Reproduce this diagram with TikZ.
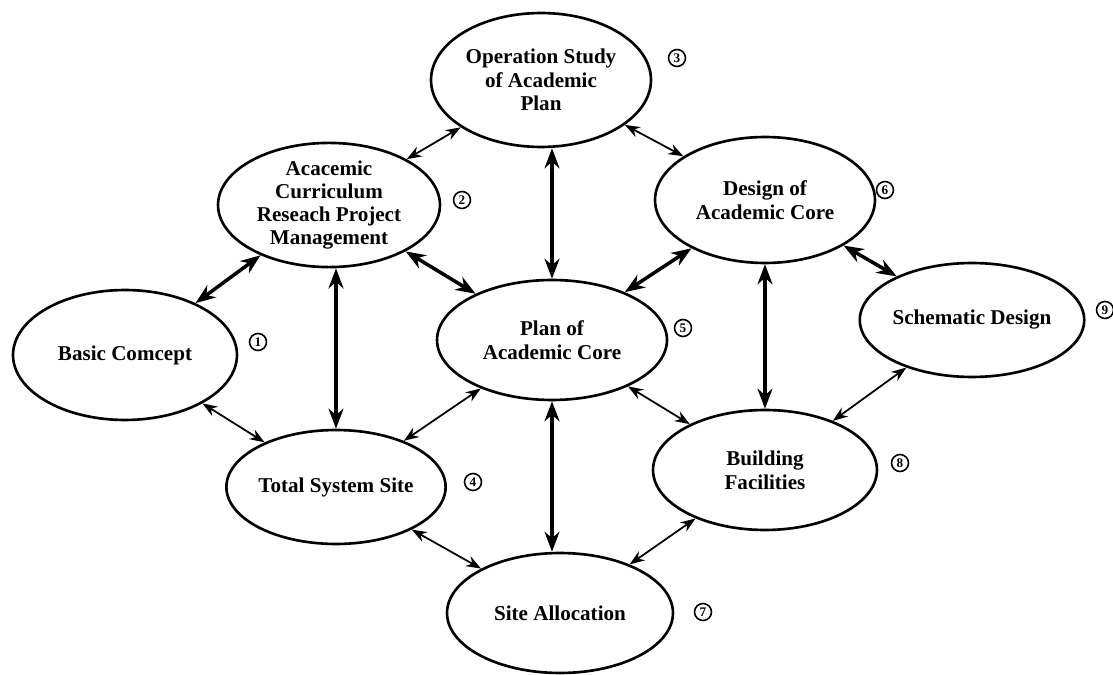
\documentclass[tikz,border=0pt]{standalone}
\usepackage{fontspec}
\setmainfont{Liberation Serif}
\usepackage{tikz}
\usetikzlibrary{arrows.meta,shapes.geometric}

\begin{document}
\begin{tikzpicture}[x=0.02cm,y=-0.02cm,
    stage/.style={ellipse,draw,line width=1.5pt,inner sep=0pt,align=center,
        font=\fontsize{12}{13.5}\selectfont\bfseries},
    tag/.style={circle,draw,line width=0.9pt,minimum size=0.34cm,inner sep=0pt,
        font=\fontsize{7.5}{7.5}\selectfont\bfseries},
    link/.style={{Stealth[length=3mm,width=2.2mm]}-{Stealth[length=3mm,width=2.2mm]},line width=1pt},
    strong/.style={{Stealth[length=4mm,width=3mm]}-{Stealth[length=4mm,width=3mm]},line width=2pt}
]
\useasboundingbox (0,0) rectangle (1113,675);
% stages
\node[stage,minimum width=4.4cm,minimum height=2.68cm] (op) at (541,80) {Operation Study\\of Academic\\Plan};
\node[stage,minimum width=4.44cm,minimum height=2.48cm,font=\fontsize{12}{13}\selectfont\bfseries] (acad) at (329,205) {Acacemic\\Curriculum\\Reseach Project\\Management};
\node[stage,minimum width=4.4cm,minimum height=2.52cm] (design) at (765,200) {Design of\\Academic Core};
\node[stage,minimum width=4.48cm,minimum height=2.6cm] (basic) at (125,355) {Basic Comcept};
\node[stage,minimum width=4.6cm,minimum height=2.4cm] (plan) at (552,340) {Plan of\\Academic Core};
\node[stage,minimum width=4.48cm,minimum height=2.28cm] (schem) at (972,320) {Schematic Design};
\node[stage,minimum width=4.36cm,minimum height=2.28cm] (total) at (336,487) {Total System Site};
\node[stage,minimum width=4.48cm,minimum height=2.4cm] (build) at (765,470) {Building\\Facilities};
\node[stage,minimum width=4.52cm,minimum height=2.4cm] (site) at (560,613) {Site Allocation};
% step numbers
\foreach \n/\x/\y in {1/258/342,2/462/200,3/677/58,4/473/482,5/683/328,6/885/190,7/703/612,8/900/463,9/1105/310}
    \node[tag] (n\n) at (\x,\y) {\n};
% connections
\foreach \a/\b in {op/acad,op/design,basic/total,plan/total,plan/build,schem/build,total/site,build/site}
    \draw[link] (\a) -- (\b);
\foreach \a/\b in {acad/basic,acad/plan,design/plan,design/schem}
    \draw[strong] (\a) -- (\b);
% vertical links
\draw[strong] (plan.north) -- (plan.north |- op.south);
\draw[strong] (total.north) -- (total.north |- acad.south);
\draw[strong] (build.north) -- (build.north |- design.south);
\draw[strong] (plan.south) -- (plan.south |- site.north);
\end{tikzpicture}
\end{document}
